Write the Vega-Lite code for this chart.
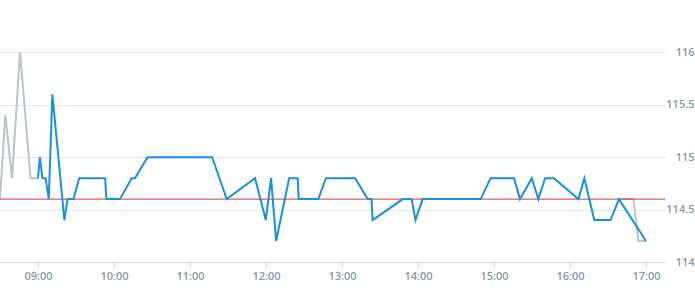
{
  "$schema": "https://vega.github.io/schema/vega-lite/v6.json",
  "width": 665,
  "height": 262,
  "autosize": "none",
  "padding": {"left": 0, "top": 0, "right": 30, "bottom": 38},
  "background": "white",
  "config": {
    "view": {"stroke": null},
    "font": "Open Sans"
  },
  "datasets": {
    "pts": [
    {"t": "2024-01-02T08:30:00", "v": 114.6, "s": "pre"},
    {"t": "2024-01-02T08:34:10", "v": 115.4, "s": "pre"},
    {"t": "2024-01-02T08:39:30", "v": 114.8, "s": "pre"},
    {"t": "2024-01-02T08:45:50", "v": 116.0, "s": "pre"},
    {"t": "2024-01-02T08:54:10", "v": 114.8, "s": "pre"},
    {"t": "2024-01-02T09:00:00", "v": 114.8, "s": "pre"},
    {"t": "2024-01-02T16:38:40", "v": 114.6, "s": "post"},
    {"t": "2024-01-02T16:50:00", "v": 114.6, "s": "post"},
    {"t": "2024-01-02T16:54:00", "v": 114.2, "s": "post"},
    {"t": "2024-01-02T17:00:30", "v": 114.2, "s": "post"},
    {"t": "2024-01-02T09:00:00", "v": 114.8, "s": "main"},
    {"t": "2024-01-02T09:01:30", "v": 115.0, "s": "main"},
    {"t": "2024-01-02T09:03:30", "v": 114.8, "s": "main"},
    {"t": "2024-01-02T09:06:00", "v": 114.8, "s": "main"},
    {"t": "2024-01-02T09:08:30", "v": 114.6, "s": "main"},
    {"t": "2024-01-02T09:11:20", "v": 115.6, "s": "main"},
    {"t": "2024-01-02T09:20:50", "v": 114.4, "s": "main"},
    {"t": "2024-01-02T09:23:20", "v": 114.6, "s": "main"},
    {"t": "2024-01-02T09:28:00", "v": 114.6, "s": "main"},
    {"t": "2024-01-02T09:32:30", "v": 114.8, "s": "main"},
    {"t": "2024-01-02T09:53:00", "v": 114.8, "s": "main"},
    {"t": "2024-01-02T09:54:00", "v": 114.6, "s": "main"},
    {"t": "2024-01-02T10:04:40", "v": 114.6, "s": "main"},
    {"t": "2024-01-02T10:14:00", "v": 114.8, "s": "main"},
    {"t": "2024-01-02T10:16:30", "v": 114.8, "s": "main"},
    {"t": "2024-01-02T10:26:30", "v": 115.0, "s": "main"},
    {"t": "2024-01-02T11:17:30", "v": 115.0, "s": "main"},
    {"t": "2024-01-02T11:29:00", "v": 114.6, "s": "main"},
    {"t": "2024-01-02T11:51:20", "v": 114.8, "s": "main"},
    {"t": "2024-01-02T11:59:50", "v": 114.4, "s": "main"},
    {"t": "2024-01-02T12:04:00", "v": 114.8, "s": "main"},
    {"t": "2024-01-02T12:08:00", "v": 114.2, "s": "main"},
    {"t": "2024-01-02T12:18:20", "v": 114.8, "s": "main"},
    {"t": "2024-01-02T12:25:00", "v": 114.8, "s": "main"},
    {"t": "2024-01-02T12:25:50", "v": 114.6, "s": "main"},
    {"t": "2024-01-02T12:41:20", "v": 114.6, "s": "main"},
    {"t": "2024-01-02T12:47:20", "v": 114.8, "s": "main"},
    {"t": "2024-01-02T13:10:20", "v": 114.8, "s": "main"},
    {"t": "2024-01-02T13:20:20", "v": 114.6, "s": "main"},
    {"t": "2024-01-02T13:23:20", "v": 114.6, "s": "main"},
    {"t": "2024-01-02T13:24:10", "v": 114.4, "s": "main"},
    {"t": "2024-01-02T13:48:00", "v": 114.6, "s": "main"},
    {"t": "2024-01-02T13:55:00", "v": 114.6, "s": "main"},
    {"t": "2024-01-02T13:58:00", "v": 114.4, "s": "main"},
    {"t": "2024-01-02T14:03:40", "v": 114.6, "s": "main"},
    {"t": "2024-01-02T14:49:30", "v": 114.6, "s": "main"},
    {"t": "2024-01-02T14:57:20", "v": 114.8, "s": "main"},
    {"t": "2024-01-02T15:15:50", "v": 114.8, "s": "main"},
    {"t": "2024-01-02T15:20:30", "v": 114.6, "s": "main"},
    {"t": "2024-01-02T15:29:50", "v": 114.8, "s": "main"},
    {"t": "2024-01-02T15:35:00", "v": 114.6, "s": "main"},
    {"t": "2024-01-02T15:40:20", "v": 114.8, "s": "main"},
    {"t": "2024-01-02T15:47:20", "v": 114.8, "s": "main"},
    {"t": "2024-01-02T16:06:40", "v": 114.6, "s": "main"},
    {"t": "2024-01-02T16:11:20", "v": 114.8, "s": "main"},
    {"t": "2024-01-02T16:19:10", "v": 114.4, "s": "main"},
    {"t": "2024-01-02T16:32:00", "v": 114.4, "s": "main"},
    {"t": "2024-01-02T16:38:40", "v": 114.6, "s": "main"},
    {"t": "2024-01-02T17:00:00", "v": 114.2, "s": "main"}
    ],
    "ref": [{"r": 114.6}]
  },
  "layer": [
    {
      "data": {"name": "pts"},
      "transform": [{"filter": "datum.s !== 'main'"}],
      "mark": {"type": "line", "color": "#bac4cb", "strokeWidth": 2, "clip": true},
      "encoding": {
        "x": {
          "field": "t",
          "type": "temporal",
          "scale": {"domain": [
            {"year": 2024, "month": 1, "date": 2, "hours": 8, "minutes": 30},
            {"year": 2024, "month": 1, "date": 2, "hours": 17, "minutes": 15}
          ]},
          "axis": {
            "title": null,
            "format": "%H:%M",
            "tickCount": 9,
            "grid": false,
            "domainColor": "#ccd6dd",
            "tickColor": "#ccd6dd",
            "tickSize": 5,
            "labelPadding": 3,
            "labelColor": "#8a97a4",
            "labelFontSize": 11,
            "labelFontWeight": 600,
            "labelFont": "Open Sans"
          }
        },
        "y": {
          "field": "v",
          "type": "quantitative",
          "scale": {"domain": [114, 116.5], "zero": false, "nice": false},
          "axis": {
            "title": null,
            "orient": "right",
            "values": [114, 114.5, 115, 115.5, 116],
            "format": "~g",
            "domain": false,
            "ticks": false,
            "gridColor": "#e3e7ea",
            "labelAlign": "right",
            "labelPadding": 29,
            "labelColor": "#8a97a4",
            "labelFontSize": 11,
            "labelFontWeight": 600,
            "labelFont": "Open Sans"
          }
        },
        "detail": {"field": "s", "type": "nominal"}
      }
    },
    {
      "data": {"name": "ref"},
      "mark": {"type": "rule", "color": "#cf3b33", "strokeWidth": 1},
      "encoding": {"y": {"field": "r", "type": "quantitative"}}
    },
    {
      "data": {"name": "pts"},
      "transform": [{"filter": "datum.s === 'main'"}],
      "mark": {"type": "line", "color": "#1a8fdc", "strokeWidth": 2, "clip": true},
      "encoding": {
        "x": {"field": "t", "type": "temporal"},
        "y": {"field": "v", "type": "quantitative"}
      }
    }
  ]
}
